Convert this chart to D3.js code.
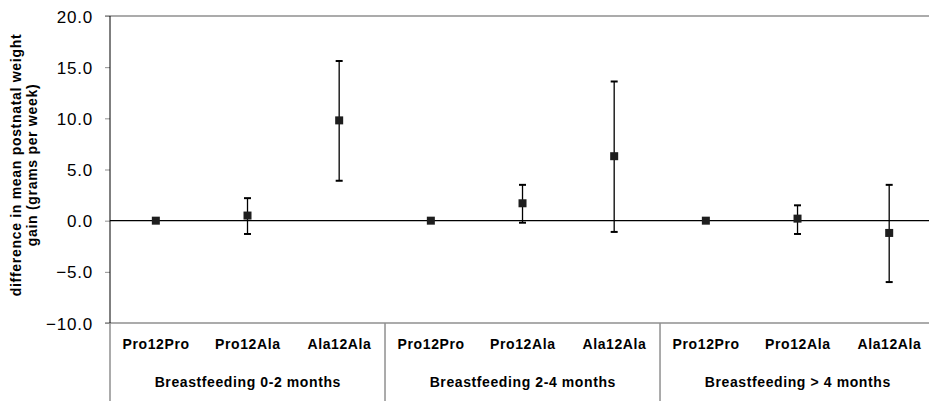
<!DOCTYPE html>
<html>
<head>
<meta charset="utf-8">
<script src="https://cdn.jsdelivr.net/npm/d3@7"></script>
<style>
  html, body { margin: 0; padding: 0; background: #fff; }
  svg { display: block; font-family: Arial, "Liberation Sans", sans-serif; }
</style>
</head>
<body>
<svg id="chart" width="929" height="401"></svg>
<script>
// Breastfeeding duration groups and PPARG Pro12Ala genotypes
const groups = ["Breastfeeding 0-2 months", "Breastfeeding 2-4 months", "Breastfeeding > 4 months"];
const genotypes = ["Pro12Pro", "Pro12Ala", "Ala12Ala"];

// Difference in mean postnatal weight gain (g/week) with 95% CI, per group x genotype
const meanDiff = [0, 0.5, 9.8, 0, 1.7, 6.3, 0, 0.2, -1.2];
const ciLower  = [null, -1.3, 3.9, null, -0.2, -1.1, null, -1.3, -6.0];
const ciUpper  = [null, 2.2, 15.6, null, 3.5, 13.6, null, 1.5, 3.5];

const yTicks = [-10, -5, 0, 5, 10, 15, 20];

const svg = d3.select("#chart");

const plotLeft = 110, plotTop = 16, plotBottom = 323, catWidth = 91.67;
const nCats = groups.length * genotypes.length;

const cats = [];
groups.forEach((g, gi) => genotypes.forEach((t, ti) => cats.push({
  key: gi + "|" + t, group: g, genotype: t,
  mean: meanDiff[gi * genotypes.length + ti],
  lo: ciLower[gi * genotypes.length + ti],
  hi: ciUpper[gi * genotypes.length + ti]
})));

const x = d3.scaleBand()
  .domain(cats.map(d => d.key))
  .range([plotLeft, plotLeft + nCats * catWidth])
  .paddingInner(0).paddingOuter(0);

const y = d3.scaleLinear().domain([-10, 20]).range([plotBottom, plotTop]);

const gray = "#8f8f8f";

// Top and bottom frame lines
[20, -10].forEach(v => {
  svg.append("line")
    .attr("x1", 105).attr("x2", 929)
    .attr("y1", y(v)).attr("y2", y(v))
    .attr("stroke", gray).attr("stroke-width", 1.5);
});

// Y axis
const yAxis = d3.axisLeft(y).tickValues(yTicks).tickFormat(d3.format(".1f")).tickSize(5).tickPadding(8);
const gy = svg.append("g").attr("transform", `translate(${plotLeft},0)`).call(yAxis);
gy.select(".domain").remove();
gy.selectAll(".tick line").attr("stroke", gray);
gy.selectAll(".tick text")
  .attr("font-size", 17).attr("letter-spacing", 0.8).attr("fill", "#000")
  .attr("x", -17).attr("dy", "0.36em");
svg.append("line")
  .attr("x1", plotLeft).attr("x2", plotLeft)
  .attr("y1", plotTop).attr("y2", plotBottom)
  .attr("stroke", "#000").attr("stroke-width", 1);

// Zero reference line
svg.append("line")
  .attr("x1", plotLeft).attr("x2", 929)
  .attr("y1", y(0)).attr("y2", y(0))
  .attr("stroke", "#000").attr("stroke-width", 1.2);

// Group separators in the category area
d3.range(groups.length + 1).forEach(i => {
  const xx = plotLeft + i * genotypes.length * catWidth;
  svg.append("line")
    .attr("x1", xx).attr("x2", xx)
    .attr("y1", plotBottom).attr("y2", 401)
    .attr("stroke", gray).attr("stroke-width", 1.5);
});

// Genotype labels
svg.append("g").selectAll("text").data(cats).join("text")
  .attr("x", d => x(d.key) + x.bandwidth() / 2 + 0.3)
  .attr("y", 349)
  .attr("text-anchor", "middle")
  .attr("font-size", 14).attr("font-weight", "bold").attr("letter-spacing", 0.6)
  .attr("fill", "#000")
  .text(d => d.genotype);

// Group labels
svg.append("g").selectAll("text").data(groups).join("text")
  .attr("x", (d, i) => plotLeft + (i + 0.5) * genotypes.length * catWidth + 0.3)
  .attr("y", 387)
  .attr("text-anchor", "middle")
  .attr("font-size", 14).attr("font-weight", "bold").attr("letter-spacing", 0.6)
  .attr("fill", "#000")
  .text(d => d);

// Y axis title
const title = svg.append("text")
  .attr("transform", "translate(21,165) rotate(-90)")
  .attr("text-anchor", "middle")
  .attr("font-size", 14).attr("font-weight", "bold").attr("letter-spacing", 0.7)
  .attr("fill", "#000");
title.append("tspan").attr("x", 0).attr("y", 0).text("difference in mean postnatal weight");
title.append("tspan").attr("x", 0).attr("y", 16).text("gain (grams per week)");

// Error bars
const withCI = cats.filter(d => d.lo !== null);
const cx = d => x(d.key) + x.bandwidth() / 2;
const eb = svg.append("g");
eb.selectAll("line.stem").data(withCI).join("line").attr("class", "stem")
  .attr("x1", cx).attr("x2", cx)
  .attr("y1", d => y(d.lo)).attr("y2", d => y(d.hi))
  .attr("stroke", "#000").attr("stroke-width", 1.3);
["lo", "hi"].forEach(k => {
  eb.selectAll("line.cap-" + k).data(withCI).join("line").attr("class", "cap-" + k)
    .attr("x1", d => cx(d) - 3.5).attr("x2", d => cx(d) + 3.5)
    .attr("y1", d => y(d[k])).attr("y2", d => y(d[k]))
    .attr("stroke", "#000").attr("stroke-width", 2);
});

// Point estimates
svg.append("g").selectAll("rect").data(cats).join("rect")
  .attr("x", d => cx(d) - 4).attr("y", d => y(d.mean) - 4)
  .attr("width", 8).attr("height", 8)
  .attr("fill", "#1e1e1e");
</script>
</body>
</html>
